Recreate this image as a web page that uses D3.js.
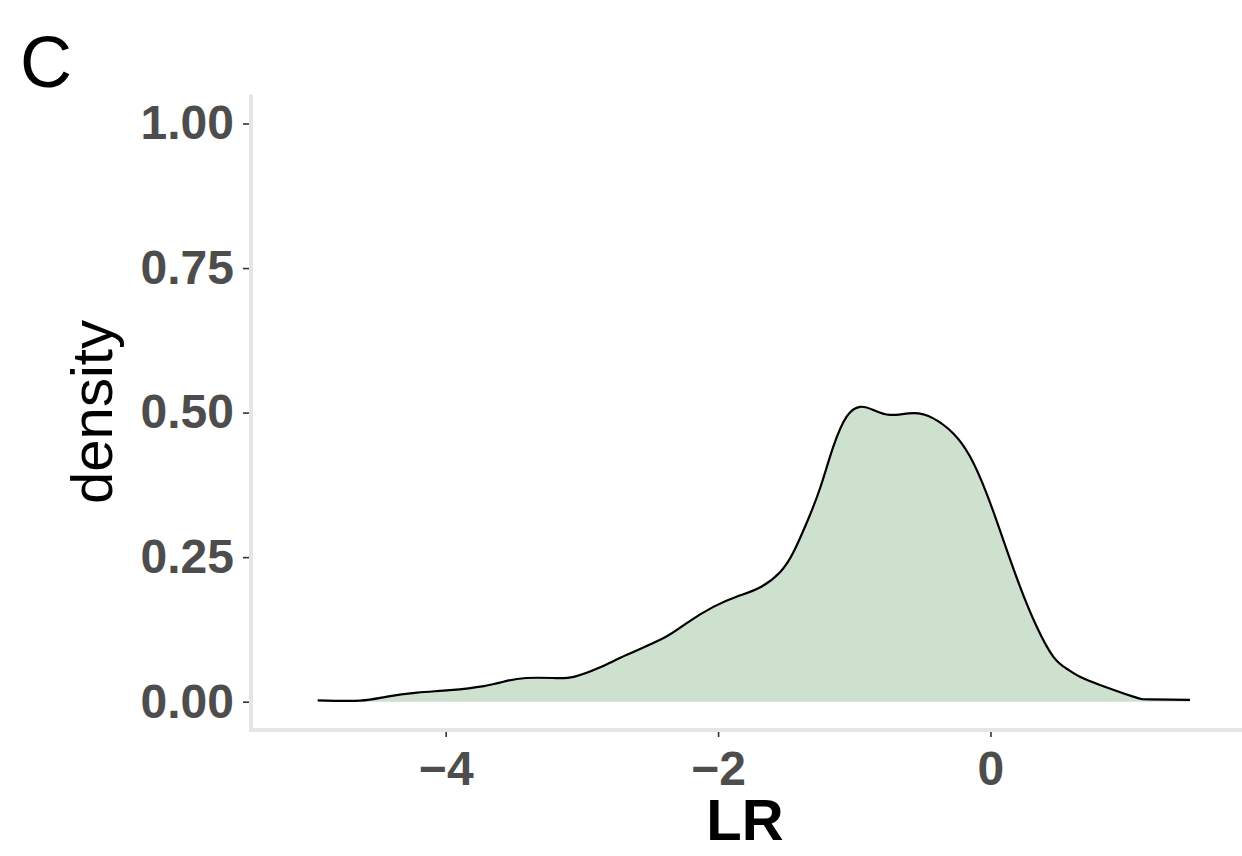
<!DOCTYPE html>
<html>
<head>
<meta charset="utf-8">
<script src="https://cdn.jsdelivr.net/npm/d3@7"></script>
<style>
  body { margin: 0; background: #fff; }
  svg { display: block; font-family: "Liberation Sans", Arial, sans-serif; }
</style>
</head>
<body>
<div id="chart"></div>
<script>
// density curve
var lr = [-4.94, -4.63, -4.43, -4.21, -3.97, -3.72, -3.55, -3.41, -3.21, -3.06,
  -2.87, -2.67, -2.40, -2.23, -2.035, -1.86, -1.69, -1.545, -1.45, -1.35,
  -1.25, -1.154, -1.056, -0.958, -0.86, -0.738, -0.567, -0.42, -0.273, -0.15,
  -0.028, 0.094, 0.217, 0.339, 0.461, 0.56, 0.657, 0.804, 1.048, 1.171, 1.465];
var density = [0.0024, 0.0017, 0.0087, 0.0156, 0.020, 0.027, 0.036, 0.041, 0.041, 0.043,
  0.059, 0.081, 0.110, 0.136, 0.164, 0.182, 0.198, 0.224, 0.257, 0.309,
  0.370, 0.441, 0.493, 0.510, 0.5045, 0.496, 0.499, 0.490, 0.464, 0.424,
  0.360, 0.280, 0.199, 0.130, 0.078, 0.057, 0.043, 0.029, 0.0087, 0.004, 0.003];

var xTicks = [-4, -2, 0];
var yTicks = [0, 0.25, 0.5, 0.75, 1];

var W = 1242, H = 856;
var panel = {left: 251, right: 1242, top: 94.6, bottom: 730.6};

var svg = d3.select("#chart")
  .append("svg")
    .attr("width", W)
    .attr("height", H);

var x = d3.scaleLinear()
  .domain([-5.437, 1.847])
  .range([250, 1242]);

var y = d3.scaleLinear()
  .domain([-0.05, 1.05])
  .range([panel.bottom, panel.top]);

var data = lr.map(function(v, i) { return {lr: v, d: density[i]}; });

// filled density
svg.append("path")
  .datum(data)
  .attr("fill", "#cee0ce")
  .attr("stroke", "none")
  .attr("d", d3.area()
    .curve(d3.curveNatural)
    .x(function(d) { return x(d.lr); })
    .y0(y(0))
    .y1(function(d) { return y(d.d); }));

svg.append("path")
  .datum(data)
  .attr("fill", "none")
  .attr("stroke", "#000")
  .attr("stroke-width", 2.2)
  .attr("d", d3.line()
    .curve(d3.curveNatural)
    .x(function(d) { return x(d.lr); })
    .y(function(d) { return y(d.d); }));

// axis lines
svg.append("line")
  .attr("x1", 251).attr("x2", 251)
  .attr("y1", panel.top).attr("y2", 732)
  .attr("stroke", "#e5e5e5").attr("stroke-width", 4);
svg.append("line")
  .attr("x1", 249).attr("x2", W)
  .attr("y1", 730).attr("y2", 730)
  .attr("stroke", "#e5e5e5").attr("stroke-width", 4);

// y axis
var gy = svg.append("g")
  .attr("transform", "translate(249,0)")
  .call(d3.axisLeft(y)
    .tickValues(yTicks)
    .tickFormat(d3.format(".2f"))
    .tickSize(6)
    .tickPadding(9));

// x axis
var gx = svg.append("g")
  .attr("transform", "translate(0,732)")
  .call(d3.axisBottom(x)
    .tickValues(xTicks)
    .tickFormat(function(d) { return d < 0 ? "\u2212" + Math.abs(d) : d; })
    .tickSize(5)
    .tickPadding(14));

svg.selectAll(".domain").remove();
svg.selectAll(".tick line")
  .attr("stroke", "#333")
  .attr("stroke-width", 1.6);
svg.selectAll(".tick text")
  .attr("fill", "#4d4d4d")
  .style("font-size", "48px")
  .style("font-weight", "bold")
  .style("font-family", "'Liberation Sans', Arial, sans-serif");

// axis titles
svg.append("text")
  .attr("x", 745)
  .attr("y", 840)
  .attr("text-anchor", "middle")
  .style("font-size", "58px")
  .style("font-weight", "bold")
  .text("LR");

svg.append("text")
  .attr("transform", "translate(112,412) rotate(-90)")
  .attr("text-anchor", "middle")
  .style("font-size", "58px")
  .text("density");

// panel tag
svg.append("text")
  .attr("x", 20)
  .attr("y", 87)
  .style("font-size", "72px")
  .text("C");
</script>
</body>
</html>
